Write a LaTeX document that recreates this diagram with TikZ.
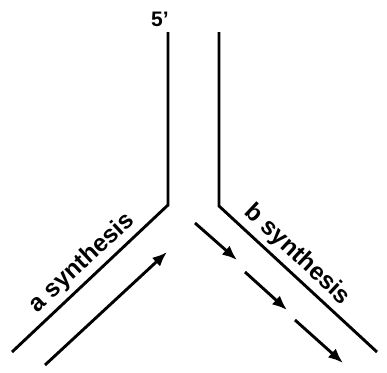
\documentclass[tikz,border=0pt]{standalone}
\usepackage{fontspec}
\setmainfont{Liberation Sans}
\usetikzlibrary{arrows.meta}
\newcommand{\forkarrowstyle}{-{Latex[length=5.2mm,width=4.2mm]}}

\begin{document}
\begin{tikzpicture}[
    x=1pt, y=-1pt,
    strand/.style={line width=2.9pt, line cap=butt, line join=miter},
    newdna/.style={\forkarrowstyle, line width=2.9pt},
    lab/.style={font=\fontsize{24.5}{27}\selectfont\bfseries, inner sep=0pt}
]
  \useasboundingbox (0,0) rectangle (387,372);

  % parental strands
  \coordinate (top-a) at (168,32);
  \coordinate (fork-a) at (168,205);
  \coordinate (end-a) at (12,352);
  \coordinate (top-b) at (219,32);
  \coordinate (fork-b) at (219,206);
  \coordinate (end-b) at (377,352);
  \draw[strand] (top-a) -- (fork-a) -- (end-a);
  \draw[strand] (top-b) -- (fork-b) -- (end-b);

  \node[lab, font=\fontsize{21}{23}\selectfont\bfseries] (five) at (160,19) {5'};

  % leading strand
  \coordinate (lead-s) at (45,365);
  \coordinate (lead-e) at (167,252);
  \draw[newdna] (lead-s) -- (lead-e);

  % lagging fragments
  \foreach \i/\xs/\ys/\xe/\ye in {1/195/223/237/260, 2/245/272/287/310, 3/295/320/343/363} {
    \coordinate (frag-s-\i) at (\xs,\ys);
    \coordinate (frag-e-\i) at (\xe,\ye);
    \draw[newdna] (frag-s-\i) -- (frag-e-\i);
  }

  \node[lab, rotate=43] (asyn) at (82,263) {a synthesis};
  \node[lab, rotate=-43] (bsyn) at (297,255) {b synthesis};
\end{tikzpicture}
\end{document}
